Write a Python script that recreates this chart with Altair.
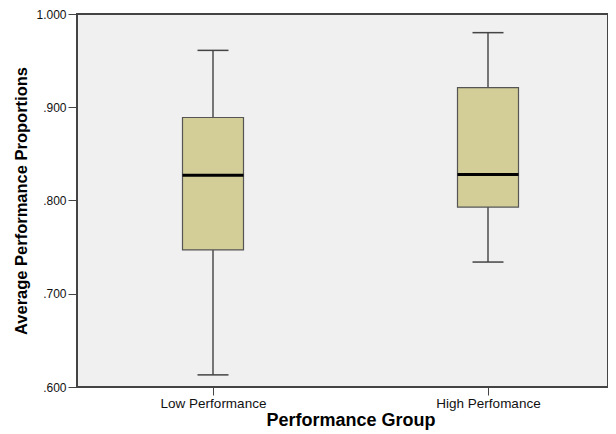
import altair as alt
import pandas as pd

groups = ["Low Performance", "High Perfomance"]
mins = [0.613, 0.734]
q1s = [0.747, 0.793]
medians = [0.827, 0.828]
q3s = [0.889, 0.921]
maxs = [0.961, 0.980]
y_ticks = [0.6, 0.7, 0.8, 0.9, 1.0]

df = pd.DataFrame({"group": groups, "lo": mins, "q1": q1s, "med": medians, "q3": q3s, "hi": maxs})

FONT = "Liberation Sans"
AX = "#444444"

x = alt.X("group:N", sort=groups,
          scale=alt.Scale(type="point", range=[136, 411], padding=0),
          axis=alt.Axis(title="Performance Group", labelAngle=0, labelFont=FONT, labelFontSize=13.5,
                        labelColor="#111111", titleFont=FONT, titleFontSize=18, titleFontWeight="bold",
                        titleColor="#000000", domain=False, tickColor=AX, tickSize=8, tickWidth=1,
                        labelPadding=1, titlePadding=2, grid=False))
yscale = alt.Scale(domain=[0.6, 1.0], nice=False, zero=False)
yaxis = alt.Axis(title="Average Performance Proportions", values=y_ticks,
                 labelExpr="datum.value < 1 ? slice(format(datum.value, '.3f'), 1) : format(datum.value, '.3f')",
                 labelFont=FONT, labelFontSize=12, labelColor="#111111",
                 titleFont=FONT, titleFontSize=16.5, titleFontWeight="bold", titleColor="#000000",
                 domain=False, tickColor=AX, tickSize=9, tickWidth=1, grid=False,
                 labelPadding=2, titlePadding=6)

base = alt.Chart(df)

whisk_lo = base.mark_rule(color="#333333", strokeWidth=1.3).encode(
    x=x, y=alt.Y("lo:Q", scale=yscale, axis=yaxis), y2="q1:Q")
whisk_hi = base.mark_rule(color="#333333", strokeWidth=1.3).encode(
    x=x, y=alt.Y("q3:Q", scale=yscale, axis=yaxis), y2="hi:Q")
box = base.mark_bar(size=61, fill="#D3CE97", stroke="#555555", strokeWidth=1.2, opacity=1).encode(
    x=x, y=alt.Y("q1:Q", scale=yscale, axis=yaxis), y2="q3:Q")
med = base.mark_tick(size=61, thickness=3, color="#000000", opacity=1).encode(
    x=x, y=alt.Y("med:Q", scale=yscale, axis=yaxis))
cap_lo = base.mark_tick(size=31, thickness=1.5, color="#444444", opacity=1).encode(
    x=x, y=alt.Y("lo:Q", scale=yscale, axis=yaxis))
cap_hi = base.mark_tick(size=31, thickness=1.5, color="#444444", opacity=1).encode(
    x=x, y=alt.Y("hi:Q", scale=yscale, axis=yaxis))

chart = alt.layer(whisk_lo, whisk_hi, box, med, cap_lo, cap_hi).properties(
    width=531, height=373,
    autosize=alt.AutoSizeParams(type="none"),
    padding={"left": 69, "top": 6, "right": 0, "bottom": 47},
    background="#ffffff",
).configure_view(fill="#F0F0F0", stroke=AX, strokeWidth=2)

chart.save("out.html", embed_options={"renderer": "svg", "actions": False})
